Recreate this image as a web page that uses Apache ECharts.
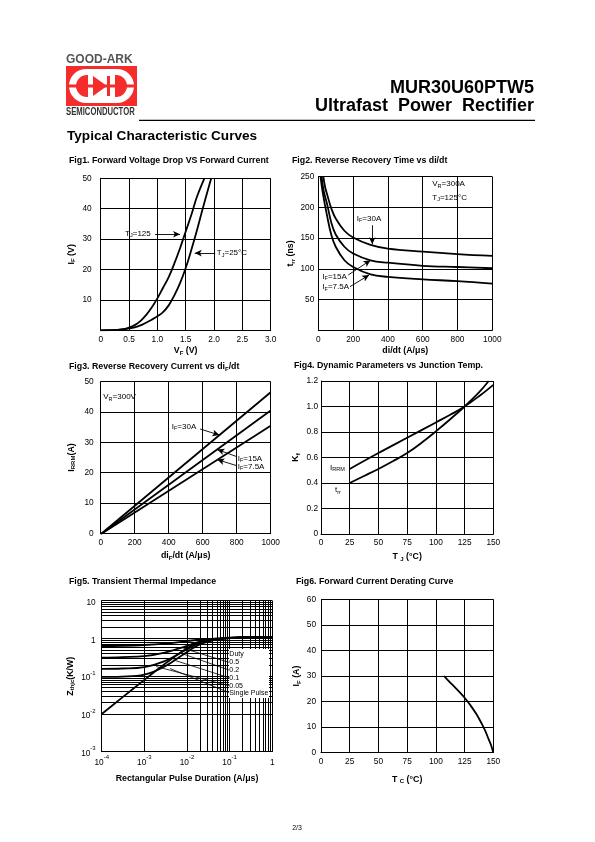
<!DOCTYPE html>
<html><head><meta charset="utf-8">
<script src="https://cdn.jsdelivr.net/npm/echarts@6/dist/echarts.min.js"></script>
<style>html,body{margin:0;padding:0;background:#fff}#c{width:595px;height:842px}</style>
</head><body><div id="c"></div>
<script>
// ---------- DATA ----------
// Fig1 forward characteristics
const vf125 = [0, 0.2, 0.4, 0.5, 0.6, 0.7, 0.8, 0.9, 1.0, 1.1, 1.2, 1.3, 1.4, 1.5, 1.6, 1.7, 1.83];
const if125 = [0, 0.05, 0.4, 0.9, 1.7, 3.0, 5.0, 7.5, 10.5, 14, 17.5, 22, 27, 32.5, 38, 44, 50];
const vf25  = [0, 0.2, 0.4, 0.5, 0.6, 0.7, 0.8, 0.9, 1.0, 1.1, 1.2, 1.3, 1.4, 1.5, 1.6, 1.7, 1.8, 1.95];
const if25  = [0, 0.05, 0.3, 0.6, 1.0, 1.6, 2.5, 3.5, 4.6, 6.0, 8.2, 11.5, 15.5, 20.5, 26.5, 33, 40, 50];
// Fig2 reverse recovery time
const didt30 = [29, 40, 50, 75, 100, 150, 200, 300, 400, 600, 800, 1000];
const trr30  = [250, 232, 222, 198, 182, 162, 151, 139, 133, 128, 124, 121];
const didt15 = [19, 30, 50, 75, 100, 150, 200, 300, 400, 600, 800, 1000];
const trr15  = [250, 228, 206, 175, 156, 136, 125, 114, 110, 105, 103, 101];
const didt75 = [13, 25, 50, 75, 100, 150, 200, 300, 400, 600, 800, 1000];
const trr75  = [250, 225, 187, 155, 136, 114, 103, 91, 87, 83, 80, 76];
// Fig3 reverse recovery current
const didtI = [0, 1000];
const irrm30 = [-0.3, 46.5];
const irrm15 = [-0.3, 40.5];
const irrm75 = [-0.3, 35.5];
// Fig4 dynamic parameters
const tjI = [25, 50, 75, 100, 112.5, 125, 137.5, 150];
const kIrrm = [0.51, 0.635, 0.755, 0.875, 0.935, 1.0, 1.08, 1.17];
const tjT = [25, 37.5, 50, 62.5, 75, 87.5, 100, 112.5, 125, 137.5, 146];
const kTrr = [0.40, 0.455, 0.51, 0.57, 0.635, 0.715, 0.805, 0.9, 1.0, 1.11, 1.2];
// Fig5 transient thermal impedance
const tp    = [1e-4, 3e-4, 1e-3, 3e-3, 1e-2, 2e-2, 5e-2, 1e-1, 3e-1, 1];
const z05   = [0.63, 0.64, 0.67, 0.73, 0.85, 0.93, 1.0, 1.05, 1.08, 1.1];
const z02   = [0.31, 0.32, 0.34, 0.42, 0.64, 0.82, 0.97, 1.04, 1.08, 1.1];
const z01   = [0.157, 0.16, 0.175, 0.25, 0.52, 0.76, 0.95, 1.03, 1.08, 1.1];
const z005  = [0.096, 0.098, 0.11, 0.18, 0.44, 0.7, 0.94, 1.02, 1.08, 1.1];
const zsp   = [0.01, 0.027, 0.08, 0.21, 0.55, 0.76, 0.94, 1.02, 1.08, 1.1];
const dutyLabels = ['Duty', '0.5', '0.2', '0.1', '0.05', 'Single Pulse'];
// Fig6 derating
const tc  = [107, 110, 115, 120, 125, 130, 135, 140, 143, 146, 148, 150];
const ifd = [30, 28.6, 26.3, 24, 21.5, 18.6, 15.3, 11.3, 8.5, 5.2, 3, 0];

// ---------- HELPERS ----------
const FONT = 'Liberation Sans';
const zip = (a, b) => a.map((v, i) => [v, b[i]]);
const chart = echarts.init(document.getElementById('c'), null, {renderer: 'canvas', width: 595, height: 842});

const nameRich = {
  m: {fontSize: 8.8, fontWeight: 'bold', fontFamily: FONT, color: '#000', lineHeight: 11},
  s: {fontSize: 6, fontWeight: 'bold', fontFamily: FONT, color: '#000', lineHeight: 6, verticalAlign: 'bottom'}
};
const lblRich = {
  b: {fontSize: 8.3, fontFamily: FONT, color: '#000', lineHeight: 12, verticalAlign: 'bottom'},
  p: {fontSize: 6, fontFamily: FONT, color: '#000', lineHeight: 6, verticalAlign: 'top'}
};
const plain = v => String(v);
function axis(g, o) {
  return Object.assign({
    gridIndex: g, type: 'value', nameLocation: 'middle',
    nameTextStyle: {rich: nameRich, fontFamily: FONT, fontWeight: 'bold', fontSize: 8.8, color: '#000'},
    axisLine: {show: true, onZero: false, lineStyle: {color: '#000', width: 1}},
    axisTick: {show: false},
    splitLine: {show: true, lineStyle: {color: '#000', width: 1}}
  }, o, {axisLabel: Object.assign({color: '#000', fontFamily: FONT, fontSize: 8.3, rich: lblRich, formatter: plain}, o.axisLabel || {})});
}
const fmt1 = v => v === 0 ? '0' : v.toFixed(1);
const noZero = v => v === 0 ? '' : String(v);
const logFmt = v => {
  const e = Math.round(Math.log10(v));
  if (e === 0) return '{b|1}';
  if (e === 1) return '{b|10}';
  return '{b|10}{p|' + e + '}';
};
function curve(g, data, extra) {
  return Object.assign({
    type: 'line', xAxisIndex: g, yAxisIndex: g, data: data, showSymbol: false, symbol: 'none',
    smooth: 0.4, silent: true, emphasis: {disabled: true},
    lineStyle: {color: '#000', width: 1.8}
  }, extra || {});
}
function arrows(list) {
  return {
    silent: true, symbol: ['none', 'arrow'], symbolSize: [5, 7], animation: false,
    label: {show: false}, emphasis: {disabled: true},
    lineStyle: {color: '#000', width: 0.9, type: 'solid'},
    data: list.map(a => [{coord: a[0]}, {coord: a[1]}])
  };
}

// minor log grid lines for fig5
const minorX = [], minorY = [];
for (let e = -4; e < 0; e++) for (let k = 2; k <= 9; k++) minorX.push(k * Math.pow(10, e));
for (let e = -3; e < 1; e++) for (let k = 2; k <= 9; k++) minorY.push(k * Math.pow(10, e));

// ---------- OPTION ----------
const grids = [
  {left: 100.7, top: 178.3, width: 170, height: 152},
  {left: 318.3, top: 176.7, width: 174, height: 153.6},
  {left: 100.7, top: 381.7, width: 170, height: 151.6},
  {left: 321, top: 381, width: 172.3, height: 153},
  {left: 101.7, top: 600.7, width: 170.6, height: 151},
  {left: 321, top: 599.3, width: 172.3, height: 153.4}
];

const option = {
  animation: false,
  backgroundColor: '#fff',
  grid: grids,
  xAxis: [
    axis(0, {min: 0, max: 3, interval: 0.5, name: '{m|V}{s|F}{m| (V)}', nameGap: 15, axisLabel: {formatter: fmt1, margin: 5}}),
    axis(1, {min: 0, max: 1000, interval: 200, name: '{m|di/dt (A/μs)}', nameGap: 15, axisLabel: {margin: 5}}),
    axis(2, {min: 0, max: 1000, interval: 200, name: '{m|di}{s|F}{m|/dt (A/μs)}', nameGap: 17, axisLabel: {margin: 5}}),
    axis(3, {min: 0, max: 150, interval: 25, name: '{m|T }{s|J}{m| (°C)}', nameGap: 17, axisLabel: {margin: 5}}),
    axis(4, {type: 'log', logBase: 10, min: 1e-4, max: 1, name: '{m|Rectangular Pulse Duration (A/μs)}', nameGap: 21, axisLabel: {formatter: logFmt, margin: 3}}),
    axis(5, {min: 0, max: 150, interval: 25, name: '{m|T }{s|C}{m| (°C)}', nameGap: 21, axisLabel: {margin: 5}})
  ],
  yAxis: [
    axis(0, {min: 0, max: 50, interval: 10, name: '{m|I}{s|F}{m| (V)}', nameGap: 24, axisLabel: {formatter: noZero, margin: 9}}),
    axis(1, {min: 0, max: 250, interval: 50, name: '{m|t}{s|rr}{m| (ns)}', nameGap: 18, axisLabel: {formatter: noZero, margin: 4}}),
    axis(2, {min: 0, max: 50, interval: 10, name: '{m|I}{s|RRM}{m|(A)}', nameGap: 24, axisLabel: {margin: 7}}),
    axis(3, {min: 0, max: 1.2, interval: 0.2, name: '{m|K}{s|f}', nameGap: 20, axisLabel: {formatter: fmt1, margin: 3}}),
    axis(4, {type: 'log', logBase: 10, min: 1e-3, max: 10, name: '{m|Z}{s|thjc}{m|(K/W)}', nameGap: 26, axisLabel: {formatter: logFmt, margin: 6}}),
    axis(5, {min: 0, max: 60, interval: 10, name: '{m|I}{s|F}{m| (A)}', nameGap: 19, axisLabel: {margin: 5}})
  ],
  series: [
    curve(0, zip(vf125, if125), {markLine: arrows([[[0.96, 31.6], [1.40, 31.6]], [[2.02, 25.4], [1.66, 25.4]]])}),
    curve(0, zip(vf25, if25)),
    curve(1, zip(didt30, trr30), {markLine: arrows([[[310, 171], [310, 140]], [[172, 90], [300, 114]], [[182, 71], [292, 90]]])}),
    curve(1, zip(didt15, trr15)),
    curve(1, zip(didt75, trr75)),
    curve(2, zip(didtI, irrm30), {smooth: false, markLine: arrows([[[585, 34.4], [698, 32.4]], [[800, 25.3], [686, 27.6]], [[800, 22.3], [686, 24.3]]])}),
    curve(2, zip(didtI, irrm15), {smooth: false}),
    curve(2, zip(didtI, irrm75), {smooth: false}),
    curve(3, zip(tjI, kIrrm)),
    curve(3, zip(tjT, kTrr)),
    curve(4, zip(tp, z05), {markLine: {
      silent: true, symbol: 'none', animation: false, label: {show: false}, emphasis: {disabled: true},
      lineStyle: {color: '#000', width: 1, type: 'solid'},
      data: minorX.map(v => ({xAxis: v})).concat(minorY.map(v => ({yAxis: v})))
    }}),
    curve(4, zip(tp, z02)),
    curve(4, zip(tp, z01)),
    curve(4, zip(tp, z005)),
    curve(4, zip(tp, zsp), {smooth: 0.2, markLine: {
      silent: true, symbol: 'none', animation: false, label: {show: false}, emphasis: {disabled: true},
      lineStyle: {color: '#000', width: 0.8, type: 'solid'},
      data: [
        [{coord: [0.0082, 0.55]}, {coord: [0.096, 0.233]}],
        [{coord: [0.0075, 0.40]}, {coord: [0.096, 0.146]}],
        [{coord: [0.0048, 0.27]}, {coord: [0.096, 0.0912]}],
        [{coord: [0.0019, 0.18]}, {coord: [0.096, 0.056]}],
        [{coord: [0.004, 0.16]}, {coord: [0.096, 0.0366]}]
      ]
    }}),
    curve(5, zip(tc, ifd))
  ]
};
chart.setOption(option);

// ---------- TEXT / ANNOTATIONS ----------
const P = (g, x, y) => chart.convertToPixel({gridIndex: g}, [x, y]);
const aRich = {
  m: {fontSize: 8, fontFamily: FONT, fill: '#000', lineHeight: 10},
  s: {fontSize: 5.5, fontFamily: FONT, fill: '#000', lineHeight: 6, verticalAlign: 'bottom'}
};
const notes = [
  [0, 0.43, 31.9, '{m|T}{s|J}{m|=125}'],
  [0, 2.05, 25.4, '{m|T}{s|J}{m|=25°C}'],
  [1, 655, 238, '{m|V}{s|R}{m|=300A}'],
  [1, 655, 215.5, '{m|T}{s|J}{m|=125°C}'],
  [1, 221, 182, '{m|I}{s|F}{m|=30A}'],
  [1, 23, 87, '{m|I}{s|F}{m|=15A}'],
  [1, 23, 70, '{m|I}{s|F}{m|=7.5A}'],
  [2, 15, 44.9, '{m|V}{s|R}{m|=300V}'],
  [2, 418, 35.2, '{m|I}{s|F}{m|=30A}'],
  [2, 806, 24.7, '{m|I}{s|F}{m|=15A}'],
  [2, 806, 22, '{m|I}{s|F}{m|=7.5A}'],
  [3, 7.8, 0.523, '{m|I}{s|RRM}'],
  [3, 12.2, 0.345, '{m|t}{s|rr}']
];
const gfx = [];
function txt(x, y, text, fontSize, weight, align, extra) {
  gfx.push(Object.assign({
    type: 'text', x: x, y: y, z: 100, silent: true,
    style: {text: text, fontSize: fontSize, fontWeight: weight || 'normal', fontFamily: FONT,
            fill: '#000', align: align || 'left', verticalAlign: 'middle'}
  }, extra || {}));
}
notes.forEach(n => {
  const p = P(n[0], n[1], n[2]);
  gfx.push({type: 'text', x: p[0], y: p[1], z: 100, silent: true,
    style: {text: n[3], rich: aRich, fontSize: 8, fontFamily: FONT, fill: '#000', align: 'left', verticalAlign: 'middle'}});
});
// Fig5 duty legend box
const b1 = P(4, 0.0966, 0.526), b2 = P(4, 0.838, 0.0265);
gfx.push({type: 'rect', z: 99, silent: true, shape: {x: b1[0], y: b1[1], width: b2[0] - b1[0], height: b2[1] - b1[1]}, style: {fill: '#fff'}});
const dutyY = [0.387, 0.233, 0.146, 0.0912, 0.056, 0.0366];
dutyLabels.forEach((t, i) => {
  const p = P(4, 0.0985, dutyY[i]);
  txt(p[0], p[1], t, 7, 'normal', 'left', {style: {text: t, fontSize: 7, fontFamily: FONT, fill: '#000', align: 'left', verticalAlign: 'middle'}});
});
// Figure titles
txt(69, 160.3, 'Fig1. Forward Voltage Drop VS Forward Current', 8.8, 'bold');
txt(292, 160.3, 'Fig2. Reverse Recovery Time vs di/dt', 8.8, 'bold');
gfx.push({type: 'text', x: 69, y: 367, z: 100, silent: true, style: {
  text: '{m|Fig3. Reverse Recovery Current vs di}{s|F}{m|/dt}', verticalAlign: 'middle',
  rich: {m: {fontSize: 8.8, fontWeight: 'bold', fontFamily: FONT, fill: '#000', lineHeight: 11},
         s: {fontSize: 6, fontWeight: 'bold', fontFamily: FONT, fill: '#000', lineHeight: 6, verticalAlign: 'bottom'}}}});
txt(294, 365.3, 'Fig4. Dynamic Parameters vs Junction Temp.', 8.8, 'bold');
txt(69, 581.3, 'Fig5. Transient Thermal Impedance', 8.8, 'bold');
txt(296, 581.3, 'Fig6. Forward Current Derating Curve', 8.8, 'bold');
// Header
txt(534, 88, 'MUR30U60PTW5', 18, 'bold', 'right');
txt(534, 106, 'Ultrafast  Power  Rectifier', 18, 'bold', 'right');
txt(67, 136.2, 'Typical Characteristic Curves', 13.6, 'bold');
gfx.push({type: 'line', z: 100, silent: true, shape: {x1: 139, y1: 120.3, x2: 535, y2: 120.3}, style: {stroke: '#000', lineWidth: 1.2}});
txt(297, 828, '2/3', 7, 'normal', 'center');
// Logo
txt(66, 59.3, 'GOOD-ARK', 12, '900', 'left', {style: {text: 'GOOD-ARK', fontSize: 12, fontWeight: 900, fontFamily: FONT, fill: '#555', align: 'left', verticalAlign: 'middle'}});
const RED = '#f42c2c';
gfx.push({type: 'rect', z: 100, silent: true, shape: {x: 66, y: 66, width: 71, height: 40}, style: {fill: RED}});
gfx.push({type: 'rect', z: 101, silent: true, shape: {x: 69, y: 69, width: 65, height: 34, r: 17}, style: {fill: '#fff'}});
gfx.push({type: 'rect', z: 102, silent: true, shape: {x: 76, y: 75, width: 51, height: 22, r: 11}, style: {fill: RED}});
gfx.push({type: 'rect', z: 103, silent: true, shape: {x: 88, y: 72, width: 27, height: 28}, style: {fill: '#fff'}});
gfx.push({type: 'rect', z: 104, silent: true, shape: {x: 69, y: 84.5, width: 65, height: 3}, style: {fill: RED}});
gfx.push({type: 'polygon', z: 104, silent: true, shape: {points: [[93, 76], [93, 96], [107, 86]]}, style: {fill: RED}});
gfx.push({type: 'rect', z: 104, silent: true, shape: {x: 107, y: 76, width: 3, height: 20}, style: {fill: RED}});
gfx.push({type: 'text', x: 66, y: 112.5, z: 100, silent: true, scaleX: 0.77, originX: 0, originY: 0,
  style: {text: 'SEMICONDUCTOR', fontSize: 10, fontWeight: 'bold', fontFamily: FONT, fill: '#333', align: 'left', verticalAlign: 'middle'}});

chart.setOption({graphic: {elements: gfx}});
</script></body></html>
